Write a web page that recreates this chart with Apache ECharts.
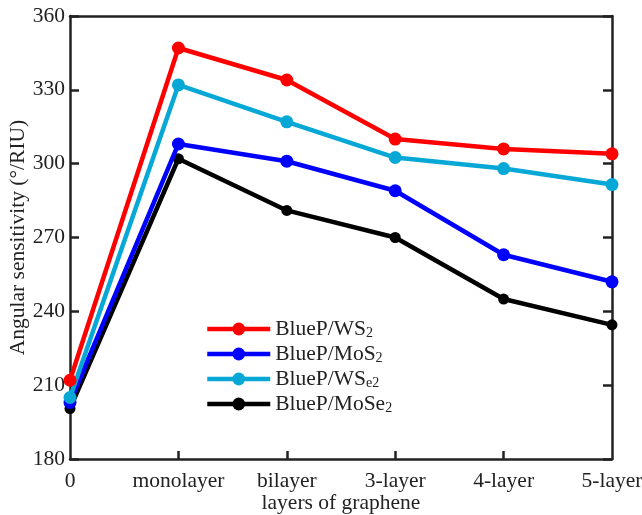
<!DOCTYPE html>
<html>
<head>
<meta charset="utf-8">
<script src="https://cdn.jsdelivr.net/npm/echarts@6/dist/echarts.min.js"></script>
<style>
  html, body { margin: 0; padding: 0; background: #fff; }
  #main { width: 642px; height: 515px; }
</style>
</head>
<body>
<div id="main"></div>
<script>
// layers of graphene
const categories = ['0', 'monolayer', 'bilayer', '3-layer', '4-layer', '5-layer'];
const yTicks = [180, 210, 240, 270, 300, 330, 360];

// angular sensitivity (deg/RIU)
const ws2   = [212, 347, 334, 310, 306, 304];
const mos2  = [203, 308, 301, 289, 263, 252];
const wse2  = [205, 332, 317, 302.5, 298, 291.5];
const mose2 = [200.5, 302, 281, 270, 245, 234.5];

const font = 'Liberation Serif';
const fs = 21.5;
const chart = echarts.init(document.getElementById('main'));

// legend names with subscripts
const legendRich = {
  BlueP_WS2:  '{n|BlueP/WS}{s|2}',
  BlueP_MoS2: '{n|BlueP/MoS}{s|2}',
  BlueP_WSe2: '{n|BlueP/WS}{s|e2}',
  BlueP_MoSe2:'{n|BlueP/MoSe}{s|2}'
};

function line(name, data, color, size, z) {
  return {
    name: name,
    type: 'line',
    data: data,
    z: z,
    symbol: 'circle',
    symbolSize: size,
    itemStyle: { color: color },
    lineStyle: { color: color, width: 4.5 },
    emphasis: { disabled: true },
    animation: false
  };
}

const option = {
  animation: false,
  grid: { left: 70, right: 30, top: 16, bottom: 56, outerBoundsMode: 'none' },
  legend: {
    data: ['BlueP_WS2', 'BlueP_MoS2', 'BlueP_WSe2', 'BlueP_MoSe2'],
    orient: 'vertical',
    left: 205,
    top: 318,
    padding: 0,
    itemGap: 3,
    itemWidth: 63,
    itemHeight: 16,
    lineStyle: { width: 4.5 },
    formatter: function (n) { return legendRich[n]; },
    textStyle: {
      rich: {
        n: { fontFamily: font, fontSize: fs, color: '#222' },
        s: { fontFamily: font, fontSize: 14, color: '#222', verticalAlign: 'bottom', padding: [8, 0, 0, 0] }
      }
    }
  },
  xAxis: [{
    type: 'category',
    data: categories,
    boundaryGap: false,
    name: 'layers of graphene',
    nameLocation: 'middle',
    nameGap: 33,
    nameMoveOverlap: false,
    nameTextStyle: { fontFamily: font, fontSize: fs, color: '#222' },
    axisLine: { lineStyle: { color: '#222', width: 2.5 } },
    axisTick: {
      inside: true, length: 8, lineStyle: { color: '#222', width: 2.5 },
      interval: function (i) { return i > 0 && i < categories.length - 1; }
    },
    axisLabel: { fontFamily: font, fontSize: fs, color: '#222', margin: 11, interval: 0, hideOverlap: false }
  }, {
    type: 'category',
    data: categories,
    boundaryGap: false,
    position: 'top',
    axisLine: { lineStyle: { color: '#222', width: 2.5 } },
    axisTick: { show: false },
    axisLabel: { show: false }
  }],
  yAxis: [{
    type: 'value',
    min: 180,
    max: 360,
    interval: 30,
    name: 'Angular sensitivity (°/RIU)',
    nameLocation: 'middle',
    nameGap: 41,
    nameMoveOverlap: false,
    nameTextStyle: { fontFamily: font, fontSize: fs, color: '#222' },
    axisLine: { show: true, lineStyle: { color: '#222', width: 2.5 } },
    axisTick: { show: true, inside: true, length: 9, lineStyle: { color: '#222', width: 2.5 } },
    axisLabel: {
      fontFamily: font, fontSize: fs, color: '#222', margin: 5,
      formatter: function (v) { return yTicks.indexOf(v) >= 0 ? String(v) : ''; }
    },
    splitLine: { show: false }
  }, {
    type: 'value',
    min: 180,
    max: 360,
    interval: 30,
    position: 'right',
    axisLine: { show: true, lineStyle: { color: '#222', width: 2.5 } },
    axisTick: { show: true, inside: true, length: 9, lineStyle: { color: '#222', width: 2.5 } },
    axisLabel: { show: false },
    splitLine: { show: false }
  }],
  series: [
    line('BlueP_MoSe2', mose2, '#000000', 11, 2),
    line('BlueP_MoS2', mos2, '#0000ff', 13, 3),
    line('BlueP_WSe2', wse2, '#08a8d6', 13, 4),
    line('BlueP_WS2', ws2, '#ff0000', 13, 5)
  ]
};

chart.setOption(option);
</script>
</body>
</html>
